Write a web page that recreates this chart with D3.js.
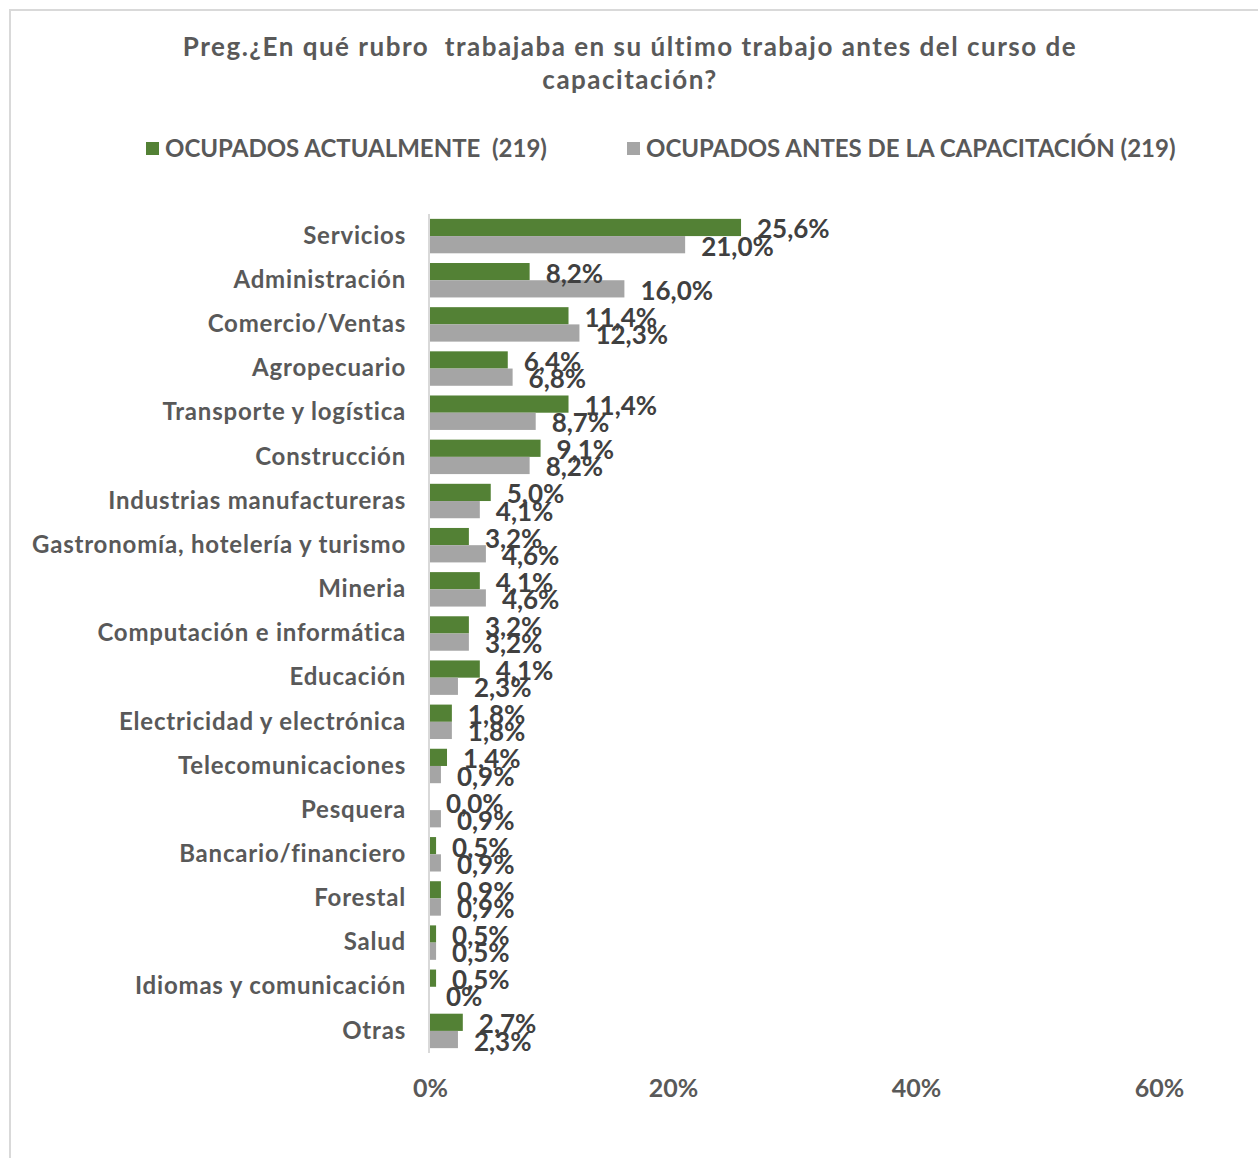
<!DOCTYPE html>
<html><head><meta charset="utf-8">
<script src="https://cdn.jsdelivr.net/npm/d3@7"></script>
<style>
html,body{margin:0;padding:0;background:#fff;}
svg{display:block;}
</style></head>
<body>
<svg id="chart" width="1258" height="1158"></svg>
<script>
const categories = ["Servicios","Administración","Comercio/Ventas","Agropecuario","Transporte y logística","Construcción","Industrias manufactureras","Gastronomía, hotelería y turismo","Mineria","Computación e informática","Educación","Electricidad y electrónica","Telecomunicaciones","Pesquera","Bancario/financiero","Forestal","Salud","Idiomas y comunicación","Otras"];
const actuales = [25.6,8.2,11.4,6.4,11.4,9.1,5.0,3.2,4.1,3.2,4.1,1.8,1.4,0.0,0.5,0.9,0.5,0.5,2.7];
const antes = [21.0,16.0,12.3,6.8,8.7,8.2,4.1,4.6,4.6,3.2,2.3,1.8,0.9,0.9,0.9,0.9,0.5,0.0,2.3];
const actualesLabels = ["25,6%","8,2%","11,4%","6,4%","11,4%","9,1%","5,0%","3,2%","4,1%","3,2%","4,1%","1,8%","1,4%","0,0%","0,5%","0,9%","0,5%","0,5%","2,7%"];
const antesLabels = ["21,0%","16,0%","12,3%","6,8%","8,7%","8,2%","4,1%","4,6%","4,6%","3,2%","2,3%","1,8%","0,9%","0,9%","0,9%","0,9%","0,5%","0%","2,3%"];
const seriesNames = ["OCUPADOS ACTUALMENTE  (219)","OCUPADOS ANTES DE LA CAPACITACIÓN (219)"];
const seriesColors = ["#538135","#a5a5a5"];
const xTicks = [0,20,40,60];
const xTickLabels = ["0%","20%","40%","60%"];
const titleLines = ["Preg.¿En qué rubro  trabajaba en su último trabajo antes del curso de","capacitación?"];

const FONT = "Lato, 'DejaVu Sans', sans-serif";
const svg = d3.select("#chart");

// chart border
svg.append("rect").attr("x",10).attr("y",10).attr("width",1300).attr("height",1300)
  .attr("fill","#fff").attr("stroke","#d9d9d9").attr("stroke-width",2);

// title
svg.append("g").selectAll("text").data(titleLines).join("text")
  .attr("x",630).attr("y",(d,i)=>56+i*33)
  .attr("text-anchor","middle").attr("font-family",FONT).attr("font-weight",700)
  .attr("font-size",26).attr("letter-spacing",1.5).attr("fill","#595959")
  .style("white-space","pre")
  .text(d=>d);

// legend
const legX = [146,627];
const leg = svg.append("g");
seriesNames.forEach((n,i)=>{
  leg.append("rect").attr("x",legX[i]).attr("y",142).attr("width",13).attr("height",13).attr("fill",seriesColors[i]);
  leg.append("text").attr("x",legX[i]+19).attr("y",157).attr("font-family",FONT).attr("font-weight",700)
    .attr("font-size",24).attr("fill","#595959").style("white-space","pre").text(n);
});

// scales
const x = d3.scaleLinear().domain([0,60]).range([430,1159]);
const y = d3.scaleBand().domain(categories).range([214,1053]).paddingInner(0.22).paddingOuter(0.11);
const ySub = d3.scaleBand().domain([0,1]).range([0,y.bandwidth()]);

// axis line (vertical category axis)
svg.append("line").attr("x1",429).attr("x2",429).attr("y1",214).attr("y2",1053)
  .attr("stroke","#d9d9d9").attr("stroke-width",2);

// category labels
const yAxis = svg.append("g").attr("transform","translate(430,0)")
  .call(d3.axisLeft(y).tickSize(0).tickPadding(24));
yAxis.select(".domain").remove();
yAxis.selectAll("text").attr("font-family",FONT).attr("font-weight",700).attr("font-size",24)
  .attr("letter-spacing",0.8).attr("fill","#595959");

// x tick labels
const xAxis = svg.append("g").attr("transform","translate(0,1053)")
  .call(d3.axisBottom(x).tickValues(xTicks).tickSize(0).tickPadding(26).tickFormat((d,i)=>xTickLabels[i]));
xAxis.select(".domain").remove();
xAxis.selectAll("text").attr("font-family",FONT).attr("font-weight",700).attr("font-size",25)
  .attr("fill","#595959");

const series = [actuales, antes];
const labels = [actualesLabels, antesLabels];
const barsG = svg.append("g");
const labelsG = svg.append("g");
series.forEach((vals,s)=>{
  barsG.append("g").selectAll("rect").data(vals).join("rect")
    .attr("x",x(0)).attr("y",(d,i)=>y(categories[i])+ySub(s))
    .attr("width",d=>x(d)-x(0)).attr("height",ySub.bandwidth())
    .attr("fill",seriesColors[s]);
  labelsG.append("g").selectAll("text").data(vals).join("text")
    .attr("x",d=>x(d)+16).attr("y",(d,i)=>y(categories[i])+ySub(s)+ySub.bandwidth()/2+11)
    .attr("font-family",FONT).attr("font-weight",700).attr("font-size",26)
    .attr("fill","#404040").text((d,i)=>labels[s][i]);
});
</script>
</body></html>
